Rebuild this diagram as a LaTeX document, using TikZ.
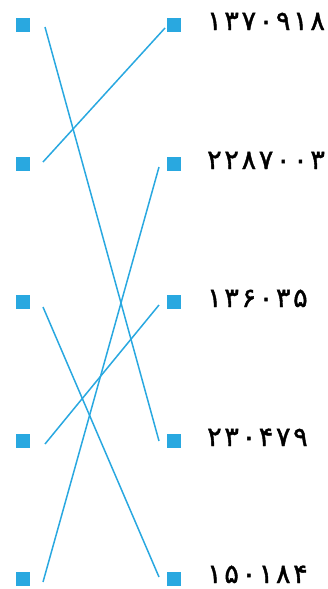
\documentclass[tikz,border=0pt]{standalone}
\usepackage{fontspec}
\newfontfamily\numfont[Script=Arabic,LetterSpace=10,FakeBold=1.5]{DejaVu Sans}
\definecolor{sq}{RGB}{41,168,224}
\tikzset{
  sqbox/.style={fill=sq,draw=none,minimum size=14pt,inner sep=0pt,outer sep=0pt},
  lbl/.style={anchor=base west,inner sep=0pt,text depth=0pt,font=\numfont\fontsize{27pt}{30pt}\selectfont},
  link/.style={draw=sq,line width=1.5pt}
}
\begin{document}
\begin{tikzpicture}[x=1pt,y=-1pt]
\useasboundingbox (0,0) rectangle (328,589);
% left squares
\node[sqbox] (l1) at (23,25) {};
\node[sqbox] (l2) at (23,164) {};
\node[sqbox] (l3) at (23,302) {};
\node[sqbox] (l4) at (23,441) {};
\node[sqbox] (l5) at (23,579) {};
% right squares
\node[sqbox] (r1) at (174,25) {};
\node[sqbox] (r2) at (174,164) {};
\node[sqbox] (r3) at (174,302) {};
\node[sqbox] (r4) at (174,441) {};
\node[sqbox] (r5) at (174,579) {};
% labels
\node[lbl] (t1) at (207,30) {۱۳۷۰۹۱۸};
\node[lbl] (t2) at (207,169) {۲۲۸۷۰۰۳};
\node[lbl] (t3) at (207,307) {۱۳۶۰۳۵};
\node[lbl] (t4) at (207,446) {۲۳۰۴۷۹};
\node[lbl] (t5) at (207,583) {۱۵۰۱۸۴};
% connector ends
\coordinate (a1) at (45,27);
\coordinate (a2) at (43,162);
\coordinate (a3) at (43,307);
\coordinate (a4) at (45,444);
\coordinate (a5) at (43,582);
\coordinate (b1) at (165,28);
\coordinate (b2) at (159,167);
\coordinate (b3) at (159,305);
\coordinate (b4) at (159,441);
\coordinate (b5) at (159,577);
\draw[link] (a1) -- (b4);
\draw[link] (a2) -- (b1);
\draw[link] (a3) -- (b5);
\draw[link] (a4) -- (b3);
\draw[link] (a5) -- (b2);
\end{tikzpicture}
\end{document}
